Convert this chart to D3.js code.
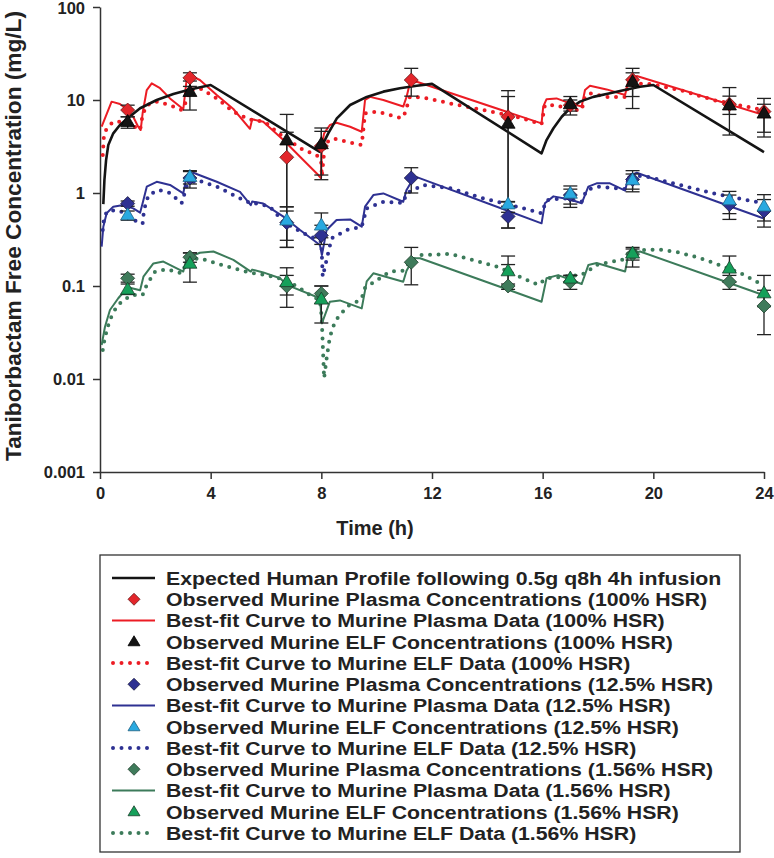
<!DOCTYPE html>
<html><head><meta charset="utf-8">
<script src="https://cdn.jsdelivr.net/npm/d3@7"></script>
<style>body{margin:0;background:#fff} svg{display:block}</style>
</head><body>
<svg id="c" width="774" height="858"></svg>
<script>
// ---------- DATA ----------
const xTicks = [0, 4, 8, 12, 16, 20, 24];
const yTicks = [0.001, 0.01, 0.1, 1, 10, 100];
const yTickLabels = ["0.001", "0.01", "0.1", "1", "10", "100"];

// Expected human profile
const humanT = [0.12,0.16,0.22,0.30,0.48,0.72,1.0,1.45,2.05,2.65,3.25,4.0,7.93,8.01,8.25,8.56,9.04,9.64,10.24,10.84,11.45,12.0,15.96,16.14,16.39,16.69,16.99,17.35,17.83,18.43,19.04,19.52,20.0,24.0];
const humanC = [0.76,1.38,2.26,3.28,4.38,5.39,6.35,8.15,10.0,11.6,13.0,14.5,2.78,3.15,4.38,6.35,8.83,10.8,12.3,13.4,14.2,14.9,2.67,3.71,4.97,6.6,8.15,9.6,10.8,11.8,13.0,13.9,14.5,2.75];

// Best-fit plasma 100%
const fitPlasma100T = [0.06,0.42,0.72,1.0,1.2,1.38,1.47,1.54,1.69,1.87,2.17,2.53,2.89,3.01,3.13,3.31,3.61,4.22,4.82,5.42,5.5,5.9,6.63,7.23,7.89,7.99,8.02,8.1,8.31,8.55,9.04,9.46,9.58,9.76,10.24,10.96,11.08,11.2,11.45,15.96,16.02,16.14,16.5,16.99,17.41,17.53,17.71,18.31,18.98,19.1,19.4,24.0];
const fitPlasma100C = [5.16,9.6,9.06,7.8,6.6,5.16,4.75,7.2,12.8,15.1,13.4,10.4,8.5,7.94,16.4,18.1,16.4,11.3,8.0,4.9,6.2,5.85,3.71,2.45,1.56,1.44,3.3,4.38,5.39,5.7,5.16,4.56,10.0,10.8,10.0,8.5,10.8,15.1,15.7,5.6,8.5,10.2,10.4,9.2,8.5,12.8,14.2,13.0,11.3,16.4,18.1,6.9];

// Best-fit ELF 100%
const fitElf100T = [0.1,0.14,0.24,0.48,0.78,1.14,1.45,1.54,1.69,2.05,2.53,2.95,3.07,3.25,3.61,4.22,4.82,5.42,5.6,6.02,6.63,7.35,7.83,7.99,8.02,8.13,8.43,8.92,9.46,9.58,10.0,10.48,10.9,11.02,11.2,11.69,12.65,13.85,15.06,15.96,16.08,16.5,16.99,17.41,17.53,17.71,18.31,18.98,19.1,19.76,20.96,22.17,23.97];
const fitElf100C = [2.56,4.03,4.97,5.85,5.85,5.39,4.75,6.9,8.8,9.6,8.8,7.8,9.0,12.8,13.4,10.4,7.5,6.1,6.2,5.6,4.0,2.9,2.56,2.26,1.5,3.42,3.87,3.56,3.28,7.2,7.5,6.9,6.35,7.2,10.8,10.6,9.2,7.8,6.6,5.52,8.8,8.8,7.8,7.8,10.8,11.8,10.8,10.8,14.5,15.1,12.8,10.0,7.8];

// Best-fit plasma 12.5%
const fitPlasma12T = [0.06,0.12,0.24,0.48,0.84,1.2,1.45,1.54,1.69,2.05,2.53,3.01,3.13,3.37,4.22,5.06,5.45,5.5,5.9,6.63,7.23,7.95,8.02,8.19,8.55,9.04,9.46,9.58,9.88,10.24,10.96,11.08,11.33,11.45,15.96,16.08,16.39,16.99,17.41,17.65,17.95,18.43,18.98,19.1,19.4,23.97];
const fitPlasma12C = [0.265,0.434,0.605,0.713,0.743,0.684,0.614,0.775,1.17,1.32,1.22,0.99,1.50,1.65,1.32,1.03,0.74,0.81,0.77,0.556,0.40,0.276,0.215,0.40,0.513,0.52,0.434,0.713,0.95,0.99,0.805,1.08,1.44,1.48,0.472,0.775,0.92,0.85,0.775,1.17,1.27,1.27,1.06,1.50,1.65,0.535];

// Best-fit ELF 12.5%
const fitElf12T = [0.1,0.14,0.24,0.54,0.96,1.33,1.54,1.59,1.75,2.11,2.53,2.95,3.13,3.49,4.22,5.06,5.5,5.66,6.14,6.63,7.35,7.89,8.0,8.05,8.37,8.92,9.46,9.64,10.24,10.96,11.08,11.69,12.65,13.85,15.54,15.96,16.14,16.8,17.41,17.59,18.0,18.98,19.16,19.76,20.96,22.17,23.97];
const fitElf12C = [0.40,0.513,0.63,0.656,0.605,0.49,0.467,0.656,0.95,1.08,1.0,0.775,1.17,1.38,1.17,0.877,0.76,0.77,0.713,0.49,0.369,0.315,0.30,0.126,0.326,0.40,0.434,0.684,0.805,0.78,0.99,1.22,1.13,0.877,0.656,0.605,0.84,0.877,0.805,1.08,1.17,1.1,1.56,1.5,1.22,0.99,0.775];

// Best-fit plasma 1.56%
const fitPlasma156T = [0.06,0.18,0.36,0.66,1.0,1.45,1.57,1.93,2.29,3.01,3.13,3.61,4.1,4.82,5.45,5.5,5.9,6.51,6.75,7.95,8.02,8.31,8.67,9.46,9.64,9.88,10.96,11.08,11.33,11.57,15.96,16.14,16.56,17.41,17.65,17.95,18.98,19.1,19.52,23.97];
const fitPlasma156C = [0.0232,0.0365,0.0552,0.0738,0.097,0.09,0.126,0.175,0.183,0.143,0.199,0.228,0.235,0.191,0.143,0.15,0.14,0.121,0.103,0.0738,0.0397,0.0678,0.07,0.0575,0.112,0.137,0.111,0.146,0.199,0.199,0.0678,0.121,0.131,0.105,0.168,0.177,0.143,0.221,0.235,0.080];

// Best-fit ELF 1.56%
const fitElf156T = [0.1,0.15,0.22,0.3,0.42,0.6,0.84,1.2,1.54,1.69,1.99,2.41,2.95,3.19,3.61,4.22,4.82,5.54,6.02,6.51,7.1,7.59,7.95,8.01,8.05,8.1,8.2,8.31,8.49,8.67,8.97,9.28,9.46,9.58,9.94,10.48,10.96,11.2,11.6,12.65,13.5,14.4,15.3,15.84,16.14,16.75,17.35,17.6,17.9,18.5,18.85,19.16,19.76,20.36,20.96,21.7,22.23,23.12,23.9];
const fitElf156C = [0.0205,0.0252,0.031,0.038,0.0476,0.0598,0.0706,0.080,0.080,0.103,0.143,0.151,0.137,0.191,0.199,0.175,0.155,0.137,0.131,0.120,0.100,0.080,0.070,0.047,0.0242,0.0102,0.0174,0.0284,0.0413,0.0488,0.0613,0.0678,0.0738,0.0956,0.112,0.143,0.146,0.183,0.215,0.221,0.19,0.16,0.121,0.103,0.121,0.126,0.131,0.14,0.167,0.183,0.188,0.235,0.245,0.245,0.228,0.199,0.175,0.139,0.105];

// Observed data (mean, lower, upper)
const plasma100T  = [1,3.25,6.75,8,11.25,14.75,17,19.25,22.75,24];
const plasma100   = [7.8,17.3,2.42,3.2,16.4,6.6,8.8,16.5,9.0,7.5];
const plasma100Lo = [6.6,14.0,0.26,1.39,11.0,0.42,7.6,10.9,7.0,4.5];
const plasma100Hi = [8.8,19.6,4.5,4.6,21.9,10.9,10.0,19.6,11.0,9.0];

const elf100T  = [1,3.25,6.75,8,14.75,17,19.25,22.75,24];
const elf100   = [5.85,12.3,3.7,3.37,5.6,9.06,15.7,8.8,7.2];
const elf100Lo = [4.97,7.8,0.71,1.56,0.8,6.9,8.1,4.2,4.0];
const elf100Hi = [6.6,16.0,7.0,5.0,12.6,10.9,21.9,13.6,10.4];

const plasma12T  = [1,3.25,6.75,8,11.25,14.75,17,19.25,22.75,24];
const plasma12   = [0.77,1.45,0.48,0.35,1.45,0.56,0.95,1.4,0.75,0.64];
const plasma12Lo = [0.72,1.25,0.26,0.28,1.0,0.42,0.76,1.1,0.52,0.43];
const plasma12Hi = [0.82,1.7,0.64,0.45,1.87,0.72,1.1,1.6,0.95,0.85];

const elf12T  = [1,3.25,6.75,8,14.75,17,19.25,22.75,24];
const elf12   = [0.58,1.50,0.51,0.45,0.76,0.99,1.38,0.84,0.72];
const elf12Lo = [0.51,1.13,0.31,0.33,0.62,0.70,1.03,0.60,0.50];
const elf12Hi = [0.64,1.74,0.71,0.61,0.81,1.19,1.74,1.04,0.96];

const plasma156T  = [1,3.25,6.75,8,11.25,14.75,17,19.25,22.75,24];
const plasma156   = [0.121,0.204,0.100,0.083,0.18,0.10,0.111,0.22,0.111,0.061];
const plasma156Lo = [0.11,0.18,0.08,0.065,0.103,0.092,0.092,0.19,0.092,0.030];
const plasma156Hi = [0.134,0.227,0.13,0.10,0.26,0.17,0.13,0.25,0.13,0.09];

const elf156T  = [1,3.25,6.75,8,14.75,17,19.25,22.75,24];
const elf156   = [0.092,0.175,0.111,0.072,0.145,0.121,0.225,0.155,0.084];
const elf156Lo = [0.081,0.11,0.059,0.04,0.105,0.11,0.16,0.11,0.06];
const elf156Hi = [0.105,0.227,0.157,0.10,0.21,0.13,0.26,0.21,0.13];

const legendLabels = [
  "Expected Human Profile following 0.5g q8h 4h infusion",
  "Observed Murine Plasma Concentrations (100% HSR)",
  "Best-fit Curve to Murine Plasma Data (100% HSR)",
  "Observed Murine ELF Concentrations (100% HSR)",
  "Best-fit Curve to Murine ELF Data (100% HSR)",
  "Observed Murine Plasma Concentrations (12.5% HSR)",
  "Best-fit Curve to Murine Plasma Data (12.5% HSR)",
  "Observed Murine ELF Concentrations (12.5% HSR)",
  "Best-fit Curve to Murine ELF Data (12.5% HSR)",
  "Observed Murine Plasma Concentrations (1.56% HSR)",
  "Best-fit Curve to Murine Plasma Data (1.56% HSR)",
  "Observed Murine ELF Concentrations (1.56% HSR)",
  "Best-fit Curve to Murine ELF Data (1.56% HSR)"
];

// ---------- STYLE ----------
const C = {
  black: "#141414", red: "#ec1c24", redFill: "#e3262b",
  blue: "#2e3192", cyan: "#29a9e0", green: "#3c7b5a", greenDia: "#3f7b5b", greenTri: "#15a05a"
};
const FONT = "'Liberation Sans', Arial, Helvetica, sans-serif";

const svg = d3.select("#c");
const x = d3.scaleLinear().domain([0, 24]).range([100, 764]);
const y = d3.scaleLog().domain([0.001, 100]).range([472, 7]);

const zip = (t, c) => t.map((d, i) => [d, c[i]]);
const line = d3.line().x(d => x(d[0])).y(d => y(d[1]));

// axes
const gx = svg.append("g").attr("transform", "translate(0,472)")
  .call(d3.axisBottom(x).tickValues(xTicks).tickSize(7).tickSizeOuter(0).tickPadding(8).tickFormat(d3.format("d")));
const gy = svg.append("g").attr("transform", "translate(100,0)")
  .call(d3.axisLeft(y).tickValues(yTicks).tickSize(7).tickSizeOuter(0).tickPadding(8).tickFormat((d, i) => yTickLabels[i]));
[gx, gy].forEach(g => {
  g.selectAll("path,line").attr("stroke", "#333").attr("stroke-width", 1.5);
  g.selectAll("text").attr("font-family", FONT).attr("font-weight", "bold").attr("font-size", 16.5).attr("fill", "#222");
});
gy.selectAll(".tick text").filter(d => d === 100).attr("dy", "0.42em");

svg.append("text").attr("x", 375).attr("y", 535).attr("text-anchor", "middle")
  .attr("font-family", FONT).attr("font-weight", "bold").attr("font-size", 20).attr("fill", "#222").text("Time (h)");
svg.append("text").attr("transform", "translate(21,236) rotate(-90)").attr("text-anchor", "middle")
  .attr("font-family", FONT).attr("font-weight", "bold").attr("font-size", 22).attr("fill", "#222")
  .attr("textLength", 450).attr("lengthAdjust", "spacingAndGlyphs")
  .text("Taniborbactam Free Concentration (mg/L)");

// curves
const curves = [
  {t: fitPlasma156T, c: fitPlasma156C, color: C.green, dot: false},
  {t: fitElf156T, c: fitElf156C, color: C.green, dot: true},
  {t: fitPlasma12T, c: fitPlasma12C, color: C.blue, dot: false},
  {t: fitElf12T, c: fitElf12C, color: C.blue, dot: true},
  {t: fitPlasma100T, c: fitPlasma100C, color: C.red, dot: false},
  {t: fitElf100T, c: fitElf100C, color: C.red, dot: true},
  {t: humanT, c: humanC, color: C.black, dot: false, w: 2.6}
];
curves.forEach(s => {
  const p = svg.append("path").datum(zip(s.t, s.c)).attr("d", line).attr("fill", "none")
    .attr("stroke", s.color);
  if (s.dot) p.attr("stroke-width", 4).attr("stroke-dasharray", "0 8.5").attr("stroke-linecap", "round");
  else p.attr("stroke-width", s.w || 2).attr("stroke-linejoin", "round");
});

// error bars
const obs = [
  {t: plasma156T, v: plasma156, lo: plasma156Lo, hi: plasma156Hi, shape: "dia", fill: C.greenDia, stroke: "#23402f"},
  {t: elf156T, v: elf156, lo: elf156Lo, hi: elf156Hi, shape: "tri", fill: C.greenTri, stroke: "#1b3d2b"},
  {t: plasma12T, v: plasma12, lo: plasma12Lo, hi: plasma12Hi, shape: "dia", fill: C.blue, stroke: "#1a1a40"},
  {t: elf12T, v: elf12, lo: elf12Lo, hi: elf12Hi, shape: "tri", fill: C.cyan, stroke: "#1f5f80"},
  {t: plasma100T, v: plasma100, lo: plasma100Lo, hi: plasma100Hi, shape: "dia", fill: C.redFill, stroke: "#6a1a1a"},
  {t: elf100T, v: elf100, lo: elf100Lo, hi: elf100Hi, shape: "tri", fill: C.black, stroke: "#000"}
];
const eg = svg.append("g").attr("stroke", "#222").attr("stroke-width", 1.3);
obs.forEach(s => {
  s.t.forEach((t, i) => {
    const xx = x(t);
    eg.append("line").attr("x1", xx).attr("x2", xx).attr("y1", y(s.lo[i])).attr("y2", y(s.hi[i]));
    [s.lo[i], s.hi[i]].forEach(v => eg.append("line").attr("x1", xx - 7).attr("x2", xx + 7).attr("y1", y(v)).attr("y2", y(v)));
  });
});

const diaPath = r => `M0,${-r}L${r},0L0,${r}L${-r},0Z`;
const triPath = (w, h) => `M0,${-h * 0.6}L${w / 2},${h * 0.4}L${-w / 2},${h * 0.4}Z`;
obs.forEach(s => {
  s.t.forEach((t, i) => {
    svg.append("path").attr("transform", `translate(${x(t)},${y(s.v[i])})`)
      .attr("d", s.shape === "dia" ? diaPath(7) : triPath(14, 12))
      .attr("fill", s.fill).attr("stroke", s.stroke).attr("stroke-width", 0.8);
  });
});

// legend
const lg = svg.append("g");
lg.append("rect").attr("x", 100).attr("y", 555).attr("width", 640).attr("height", 297)
  .attr("fill", "#fff").attr("stroke", "#333").attr("stroke-width", 1.3);
const legendKeys = [
  {type: "line", color: C.black, w: 2.6},
  {type: "dia", fill: C.redFill, stroke: "#6a1a1a"},
  {type: "line", color: C.red},
  {type: "tri", fill: C.black, stroke: "#000"},
  {type: "dot", color: C.red},
  {type: "dia", fill: C.blue, stroke: "#1a1a40"},
  {type: "line", color: C.blue},
  {type: "tri", fill: C.cyan, stroke: "#1f5f80"},
  {type: "dot", color: C.blue},
  {type: "dia", fill: C.greenDia, stroke: "#23402f"},
  {type: "line", color: C.green},
  {type: "tri", fill: C.greenTri, stroke: "#1b3d2b"},
  {type: "dot", color: C.green}
];
legendLabels.forEach((lab, i) => {
  const cy = 578 + i * 21.25;
  const k = legendKeys[i];
  if (k.type === "line") {
    lg.append("line").attr("x1", 112).attr("x2", 155).attr("y1", cy).attr("y2", cy)
      .attr("stroke", k.color).attr("stroke-width", k.w || 2);
  } else if (k.type === "dot") {
    lg.append("line").attr("x1", 113).attr("x2", 152).attr("y1", cy).attr("y2", cy)
      .attr("stroke", k.color).attr("stroke-width", 4).attr("stroke-dasharray", "0 8.5").attr("stroke-linecap", "round");
  } else {
    lg.append("path").attr("transform", `translate(134,${cy})`)
      .attr("d", k.type === "dia" ? diaPath(6) : triPath(12, 10))
      .attr("fill", k.fill).attr("stroke", k.stroke).attr("stroke-width", 0.8);
  }
  lg.append("text").attr("transform", `translate(166,${cy + 6.8}) scale(1.12,1)`)
    .attr("font-family", FONT).attr("font-weight", "bold").attr("font-size", 19).attr("fill", "#222").text(lab);
});
</script>
</body></html>
